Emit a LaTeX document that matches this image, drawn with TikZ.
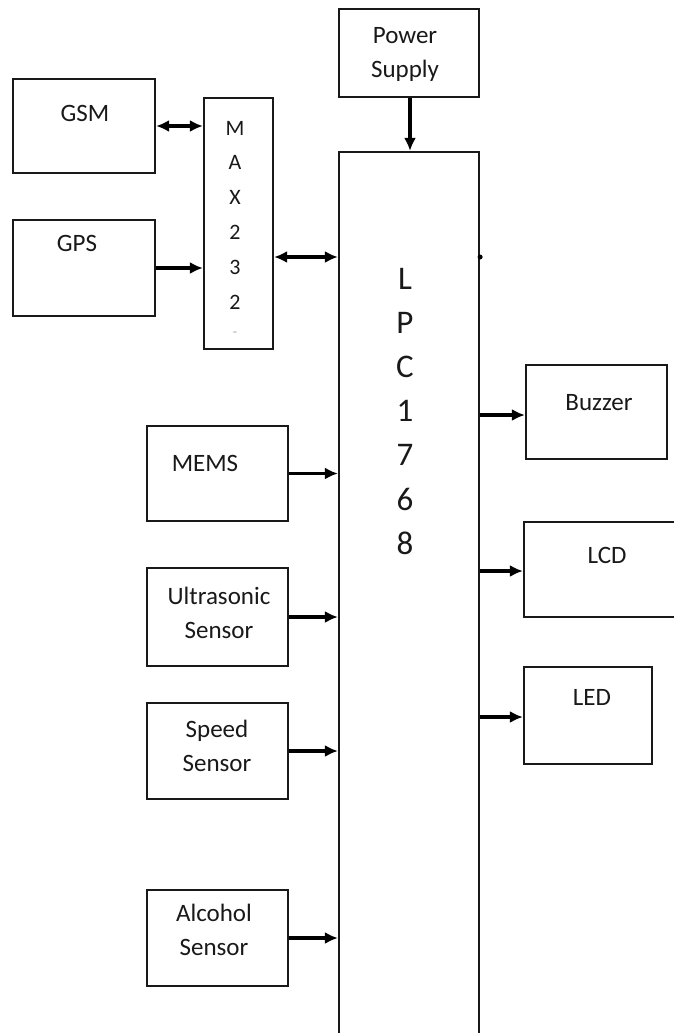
\documentclass[tikz,border=0pt]{standalone}
\usepackage{fontspec}
\setmainfont{Carlito}
\usetikzlibrary{arrows.meta}
\definecolor{txt}{RGB}{25,25,25}
\definecolor{edge}{RGB}{25,25,25}
\tikzset{
  blk/.style={draw=edge, line width=2.2bp, rectangle, inner sep=0pt, fill=white},
  lbl/.style={font=\fontsize{25bp}{34bp}\selectfont, text=txt, align=center, inner sep=0pt},
  vlbl/.style={font=\fontsize{22bp}{26bp}\selectfont, text=txt, inner sep=0pt},
  big/.style={font=\fontsize{33bp}{40bp}\selectfont, text=txt, inner sep=0pt},
  conn/.style={line width=3.6bp, draw=black, -{Latex[length=13bp,width=12bp]}},
  biconn/.style={line width=3.6bp, draw=black, {Latex[length=13bp,width=12bp]}-{Latex[length=13bp,width=12bp]}}
}
\begin{document}
\begin{tikzpicture}[x=1bp,y=-1bp]
\useasboundingbox (0,0) rectangle (674,1033);
\clip (0,0) rectangle (674,1033);
\fill[white] (0,0) rectangle (674,1033);
% blocks
\node[blk, minimum width=142bp, minimum height=94bp] (gsm) at (84,126) {};
\node[blk, minimum width=142bp, minimum height=96bp] (gps) at (84,268) {};
\node[blk, minimum width=69bp, minimum height=251bp] (max) at (238.5,223.5) {};
\node[blk, minimum width=140bp, minimum height=88bp] (pwr) at (409,53) {};
\node[blk, minimum width=140bp, minimum height=900bp] (lpc) at (409,602) {};
\node[blk, minimum width=141bp, minimum height=95bp] (mems) at (217.5,473.5) {};
\node[blk, minimum width=141bp, minimum height=98bp] (ultra) at (217.5,617) {};
\node[blk, minimum width=141bp, minimum height=96bp] (speed) at (217.5,751) {};
\node[blk, minimum width=141bp, minimum height=96bp] (alco) at (217.5,938) {};
\node[blk, minimum width=141bp, minimum height=94bp] (buzz) at (596.5,412) {};
\node[blk, minimum width=160bp, minimum height=95bp] (lcd) at (604,569.5) {};
\node[blk, minimum width=128bp, minimum height=97bp] (led) at (588,715.5) {};
% labels
\node[lbl] (tgsm) at (85,113) {GSM};
\node[lbl] (tgps) at (77,243) {GPS};
\node[lbl] (tpwr) at (405,54) {Power\\Supply};
\node[lbl] (tmems) at (205,463) {MEMS};
\node[lbl] (tultra) at (219,613) {Ultrasonic\\Sensor};
\node[lbl] (tspeed) at (217,746) {Speed\\Sensor};
\node[lbl] (talco) at (214,930) {Alcohol\\Sensor};
\node[lbl] (tbuzz) at (599,403) {Buzzer};
\node[lbl] (tlcd) at (607,555) {LCD};
\node[lbl] (tled) at (592,697) {LED};
% MAX232 letters
\foreach \c [count=\i from 0] in {M,A,X,2,3,2}
  \node[vlbl] (m\i) at (235,{128+34.8*\i}) {\c};
\node[vlbl, text=black!35, font=\fontsize{14bp}{14bp}\selectfont] (mdash) at (235,334) {-};
% LPC1768 letters
\foreach \c [count=\i from 0] in {L,P,C,1,7,6,8}
  \node[big] (l\i) at (405,{279+44*\i}) {\c};
% connectors
\draw[biconn] (gsm.east) -- (max.west |- gsm.east);
\draw[conn] (gps.east) -- (max.west |- gps.east);
\coordinate (maxout) at (max.east |- 0,257);
\draw[biconn] (maxout) -- (lpc.west |- maxout);
\draw[conn] (pwr.south -| 410,0) -- (lpc.north -| 410,0);
\draw[conn] (mems.east) -- (lpc.west |- mems.east);
\draw[conn] (ultra.east) -- (lpc.west |- ultra.east);
\draw[conn] (speed.east) -- (lpc.west |- speed.east);
\draw[conn] (alco.east) -- (lpc.west |- alco.east);
\coordinate (bz) at (buzz.west |- 0,415);
\draw[conn] (lpc.east |- bz) -- (bz);
\coordinate (lc) at (lcd.west |- 0,571);
\draw[conn] (lpc.east |- lc) -- (lc);
\coordinate (le) at (led.west |- 0,717);
\draw[conn] (lpc.east |- le) -- (le);
\fill (lpc.east |- 0,257) circle (2.5bp);
\end{tikzpicture}
\end{document}
